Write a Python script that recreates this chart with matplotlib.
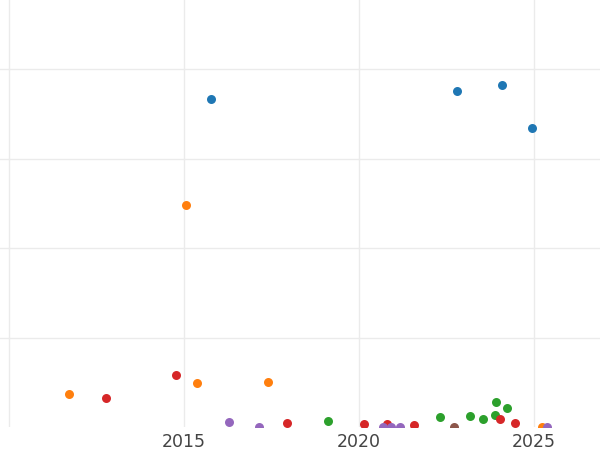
import matplotlib
matplotlib.use('Agg')
import matplotlib.pyplot as plt

# 各系列数据 (年份, 数值)
blue_x = [2015.77, 2022.80, 2024.09, 2024.94]
blue_y = [3.665, 3.751, 3.818, 3.341]

orange_x = [2015.07, 2011.72, 2015.37, 2017.41, 2025.22]
orange_y = [2.484, 0.372, 0.495, 0.499, 0.0]

green_x = [2019.12, 2022.31, 2023.17, 2023.53, 2023.89, 2023.91, 2024.22]
green_y = [0.070, 0.115, 0.123, 0.086, 0.134, 0.276, 0.216]

red_x = [2014.77, 2012.77, 2017.93, 2020.14, 2020.79, 2021.57, 2024.03, 2024.46]
red_y = [0.578, 0.321, 0.041, 0.034, 0.034, 0.022, 0.089, 0.041]

purple_x = [2016.29, 2017.13, 2020.69, 2020.91, 2021.17, 2025.38]
purple_y = [0.059, 0.0, 0.0, 0.0, 0.0, 0.0]

brown_x = [2022.71]
brown_y = [0.0]

year_ticks = [2010, 2015, 2020, 2025]
year_labels = ['', '2015', '2020', '2025']

series = [
    (blue_x, blue_y, '#1f77b4'),
    (orange_x, orange_y, '#ff7f0e'),
    (green_x, green_y, '#2ca02c'),
    (red_x, red_y, '#d62728'),
    (purple_x, purple_y, '#9467bd'),
    (brown_x, brown_y, '#8c564b'),
]

fig = plt.figure(figsize=(6, 4.5), dpi=100)
ax = fig.add_axes([0, 23 / 450, 1, 427 / 450])

for xs, ys, c in series:
    ax.scatter(xs, ys, s=42, color=c, linewidths=0, zorder=3)

ax.set_xlim(2009.743, 2026.886)
ax.set_ylim(0, 4.771)
ax.set_xticks(year_ticks)
ax.set_xticklabels(year_labels)
ax.set_yticks([1, 2, 3, 4])
ax.set_yticklabels([])
ax.grid(True, color='#ebebeb', linewidth=1)
ax.set_axisbelow(True)
ax.tick_params(length=0, labelsize=12.5, labelcolor='#444444', pad=4)
for sp in ax.spines.values():
    sp.set_visible(False)

fig.savefig('out.png', dpi=100)
